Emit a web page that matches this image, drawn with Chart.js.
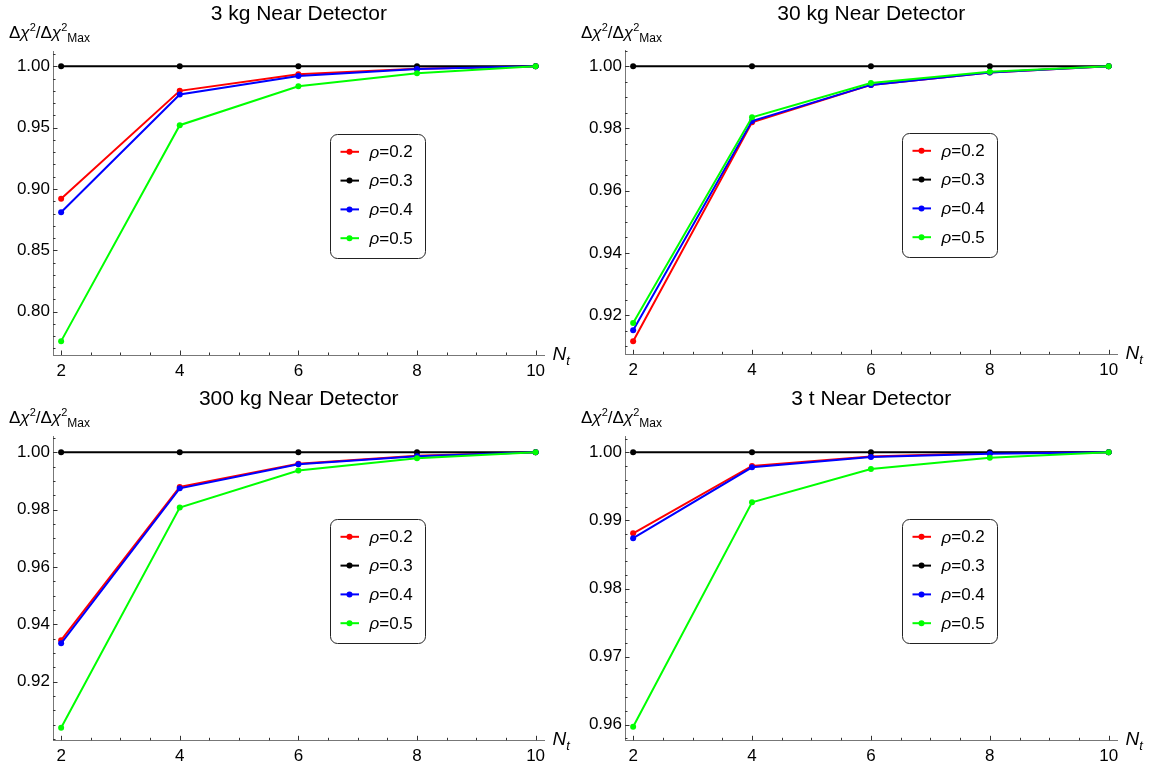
<!DOCTYPE html>
<html>
<head>
<meta charset="utf-8">
<script src="https://cdn.jsdelivr.net/npm/chart.js@4.4.1/dist/chart.umd.min.js"></script>
<style>
  body { margin: 0; background: #fff; width: 1155px; height: 769px; position: relative; overflow: hidden;
         font-family: "Liberation Sans", Arial, sans-serif; color: #000; }
  .panel { position: absolute; }
  .panel canvas { position: absolute; left: 0; top: 0; }
  .title { position: absolute; font-size: 21px; line-height: 21px; white-space: nowrap; transform: translateX(-50%); }
  .ylab { position: absolute; font-size: 17px; line-height: 17px; white-space: nowrap; }
  .ylab i { font-style: italic; }
  .ylab sup { font-size: 11px; line-height: 0; vertical-align: 7px; }
  .ylab sub { font-size: 12px; line-height: 0; vertical-align: -4px; }
  .xlab { position: absolute; font-size: 19px; line-height: 19px; white-space: nowrap; font-style: italic; }
  .xlab sub { font-size: 13px; line-height: 0; vertical-align: -5px; }
</style>
</head>
<body>
<script>
// Nt values on the x axis
const xValues = [2, 4, 6, 8, 10];
const xTicks = [2, 4, 6, 8, 10];
const rhoLabels = ['ρ=0.2', 'ρ=0.3', 'ρ=0.4', 'ρ=0.5'];
const panelTitles = ['3 kg Near Detector', '30 kg Near Detector', '300 kg Near Detector', '3 t Near Detector'];

// 3 kg
const kg3Rho02 = [0.892, 0.980, 0.9935, 0.998, 1.0];
const kg3Rho03 = [1.0, 1.0, 1.0, 1.0, 1.0];
const kg3Rho04 = [0.881, 0.977, 0.992, 0.9978, 1.0];
const kg3Rho05 = [0.776, 0.952, 0.9837, 0.9943, 1.0];
const kg3YTicks = [0.80, 0.85, 0.90, 0.95, 1.00];

// 30 kg
const kg30Rho02 = [0.9116, 0.982, 0.994, 0.998, 1.0];
const kg30Rho03 = [1.0, 1.0, 1.0, 1.0, 1.0];
const kg30Rho04 = [0.9151, 0.9824, 0.994, 0.998, 1.0];
const kg30Rho05 = [0.9175, 0.9836, 0.9946, 0.9982, 1.0];
const kg30YTicks = [0.92, 0.94, 0.96, 0.98, 1.00];

// 300 kg
const kg300Rho02 = [0.9345, 0.9879, 0.996, 0.9988, 1.0];
const kg300Rho03 = [1.0, 1.0, 1.0, 1.0, 1.0];
const kg300Rho04 = [0.9334, 0.9874, 0.9958, 0.9986, 1.0];
const kg300Rho05 = [0.904, 0.9807, 0.9936, 0.9979, 1.0];
const kg300YTicks = [0.92, 0.94, 0.96, 0.98, 1.00];

// 3 t
const t3Rho02 = [0.9881, 0.998, 0.9994, 0.9999, 1.0];
const t3Rho03 = [1.0, 1.0, 1.0, 1.0, 1.0];
const t3Rho04 = [0.9874, 0.9978, 0.9993, 0.9998, 1.0];
const t3Rho05 = [0.9597, 0.99267, 0.99755, 0.99922, 1.0];
const t3YTicks = [0.96, 0.97, 0.98, 0.99, 1.00];

const lineColors = ['#ff0000', '#000000', '#0000ff', '#00ff00'];

Chart.defaults.font.family = '"Liberation Sans", Arial, sans-serif';

// panel frames and plot areas (pixels inside each panel)
const panels = [
  { left: 0,   top: 0,   w: 575, h: 385, area: { l: 53, r: 544.5, t: 51.7, b: 355 },
    title: panelTitles[0], series: [kg3Rho02, kg3Rho03, kg3Rho04, kg3Rho05], yTicks: kg3YTicks,
    yMin: 0.7647, yMax: 1.0119, yMinor: 0.01 },
  { left: 575, top: 0,   w: 580, h: 385, area: { l: 50, r: 542.6, t: 50.7, b: 354.3 },
    title: panelTitles[1], series: [kg30Rho02, kg30Rho03, kg30Rho04, kg30Rho05], yTicks: kg30YTicks,
    yMin: 0.9074, yMax: 1.005, yMinor: 0.005 },
  { left: 0,   top: 385, w: 575, h: 384, area: { l: 53, r: 544.5, t: 51.7, b: 355.3 },
    title: panelTitles[2], series: [kg300Rho02, kg300Rho03, kg300Rho04, kg300Rho05], yTicks: kg300YTicks,
    yMin: 0.8996, yMax: 1.0054, yMinor: 0.005 },
  { left: 575, top: 385, w: 580, h: 384, area: { l: 50, r: 542.6, t: 51.7, b: 355.3 },
    title: panelTitles[3], series: [t3Rho02, t3Rho03, t3Rho04, t3Rho05], yTicks: t3YTicks,
    yMin: 0.9577, yMax: 1.0023, yMinor: 0.002 }
];

const X_MIN = 1.863, X_MAX = 10.15, X_MINOR = 0.5;

// Mathematica style ticks pointing into the plot
const innerTicks = {
  id: 'innerTicks',
  afterDraw(chart, args, opts) {
    const ctx = chart.ctx, ca = chart.chartArea;
    const xs = chart.scales.x, ys = chart.scales.y;
    ctx.save();
    ctx.strokeStyle = '#333';
    ctx.lineWidth = 1;
    const tick = (x1, y1, x2, y2) => { ctx.beginPath(); ctx.moveTo(x1, y1); ctx.lineTo(x2, y2); ctx.stroke(); };
    const near = (a, list) => list.some(v => Math.abs(v - a) < 1e-9);
    for (let v = Math.ceil(xs.min / X_MINOR) * X_MINOR; v <= xs.max + 1e-9; v += X_MINOR) {
      const px = Math.round(xs.getPixelForValue(v)) + 0.5;
      const len = near(v, xTicks) ? 4.5 : 2.5;
      tick(px, ca.bottom, px, ca.bottom - len);
    }
    const step = opts.minor;
    for (let k = Math.ceil(ys.min / step); k * step <= ys.max + 1e-9; k++) {
      const v = k * step;
      const py = Math.round(ys.getPixelForValue(v)) + 0.5;
      const len = near(v, opts.major) ? 4.5 : 2.5;
      tick(ca.left, py, ca.left + len, py);
    }
    ctx.restore();
  }
};

// boxed legend inside the plot
const boxLegend = {
  id: 'boxLegend',
  afterDraw(chart) {
    const ctx = chart.ctx, ca = chart.chartArea;
    const lx = Math.round(ca.left + 276.5) + 0.5, ly = Math.round(ca.top + 82) + 0.5;
    ctx.save();
    ctx.fillStyle = '#fff';
    ctx.strokeStyle = '#222';
    ctx.lineWidth = 1;
    ctx.beginPath();
    ctx.roundRect(lx, ly, 95, 124, 7);
    ctx.fill();
    ctx.stroke();
    chart.data.datasets.forEach((ds, i) => {
      const y = ly + 17.3 + i * 28.8;
      ctx.strokeStyle = ds.borderColor;
      ctx.lineWidth = 2;
      ctx.beginPath();
      ctx.moveTo(lx + 10, y);
      ctx.lineTo(lx + 28.5, y);
      ctx.stroke();
      ctx.fillStyle = ds.borderColor;
      ctx.beginPath();
      ctx.arc(lx + 19, y, 3, 0, Math.PI * 2);
      ctx.fill();
      ctx.fillStyle = '#000';
      ctx.textBaseline = 'middle';
      ctx.font = 'italic 17px "Liberation Sans", Arial, sans-serif';
      const sym = ds.label.charAt(0);
      ctx.fillText(sym, lx + 39, y + 1);
      const w = ctx.measureText(sym).width;
      ctx.font = '17px "Liberation Sans", Arial, sans-serif';
      ctx.fillText(ds.label.slice(1), lx + 39 + w, y + 1);
    });
    ctx.restore();
  }
};

panels.forEach((p, idx) => {
  const wrap = document.createElement('div');
  wrap.className = 'panel';
  wrap.style.left = p.left + 'px';
  wrap.style.top = p.top + 'px';
  wrap.style.width = p.w + 'px';
  wrap.style.height = p.h + 'px';
  document.body.appendChild(wrap);

  const canvas = document.createElement('canvas');
  canvas.width = p.w;
  canvas.height = p.h;
  canvas.style.width = p.w + 'px';
  canvas.style.height = p.h + 'px';
  wrap.appendChild(canvas);

  const a = p.area;
  const title = document.createElement('div');
  title.className = 'title';
  title.textContent = p.title;
  title.style.left = ((a.l + a.r) / 2) + 'px';
  title.style.top = '2px';
  wrap.appendChild(title);

  const ylab = document.createElement('div');
  ylab.className = 'ylab';
  ylab.innerHTML = 'Δ<i>χ</i><sup>2</sup>/Δ<i>χ</i><sup>2</sup><sub>Max</sub>';
  ylab.style.left = (a.l - 44) + 'px';
  ylab.style.top = '23.6px';
  wrap.appendChild(ylab);

  const xlab = document.createElement('div');
  xlab.className = 'xlab';
  xlab.innerHTML = 'N<sub>t</sub>';
  xlab.style.left = (a.r + 8) + 'px';
  xlab.style.top = (a.b - 11) + 'px';
  wrap.appendChild(xlab);

  const datasets = p.series.map((vals, i) => ({
    label: rhoLabels[i],
    data: xValues.map((x, j) => ({ x: x, y: vals[j] })),
    borderColor: lineColors[i],
    backgroundColor: lineColors[i],
    pointBackgroundColor: lineColors[i],
    pointBorderWidth: 0,
    pointRadius: 3,
    borderWidth: 2,
    tension: 0,
    fill: false,
    order: 4 - i
  }));

  new Chart(canvas.getContext('2d'), {
    type: 'line',
    data: { datasets: datasets },
    options: {
      responsive: false,
      animation: false,
      layout: { padding: { left: 0, top: a.t, right: p.w - a.r, bottom: 0 } },
      plugins: {
        legend: { display: false },
        tooltip: { enabled: false },
        innerTicks: { minor: p.yMinor, major: p.yTicks }
      },
      scales: {
        x: {
          type: 'linear',
          min: X_MIN,
          max: X_MAX,
          afterBuildTicks: s => { s.ticks = xTicks.map(v => ({ value: v })); },
          afterFit: s => { s.height = p.h - a.b; },
          grid: { display: false, drawTicks: false },
          border: { display: true, color: '#777', width: 1 },
          ticks: { padding: 6, color: '#000', font: { size: 17 }, maxRotation: 0, autoSkip: false,
                   callback: v => String(v) }
        },
        y: {
          type: 'linear',
          min: p.yMin,
          max: p.yMax,
          afterBuildTicks: s => { s.ticks = p.yTicks.map(v => ({ value: v })); },
          afterFit: s => { s.width = a.l; },
          grid: { display: false, drawTicks: false },
          border: { display: true, color: '#777', width: 1 },
          ticks: { padding: 3, color: '#000', font: { size: 17 }, autoSkip: false,
                   callback: v => v.toFixed(2) }
        }
      }
    },
    plugins: [innerTicks, boxLegend]
  });
});
</script>
</body>
</html>
